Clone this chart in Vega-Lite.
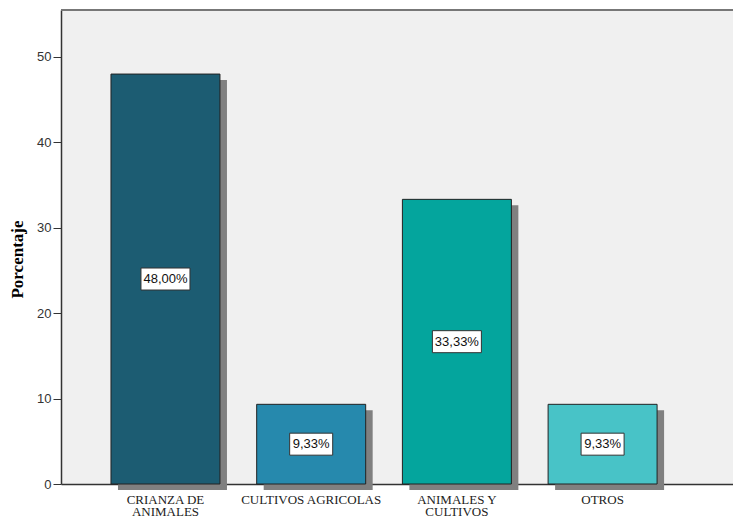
{
  "$schema": "https://vega.github.io/schema/vega-lite/v6.json",
  "width": 672,
  "height": 474,
  "autosize": {"type": "none"},
  "padding": {"left": 61, "top": 10, "right": 0, "bottom": 32},
  "background": "#ffffff",
  "config": {
    "view": {"fill": "#f0f0f0", "stroke": null}
  },
  "data": {
    "values": [
      {"categoria": "CRIANZA DE ANIMALES", "porcentaje": 48.0, "etiqueta": "48,00%"},
      {"categoria": "CULTIVOS AGRICOLAS", "porcentaje": 9.33, "etiqueta": "9,33%"},
      {"categoria": "ANIMALES Y CULTIVOS", "porcentaje": 33.33, "etiqueta": "33,33%"},
      {"categoria": "OTROS", "porcentaje": 9.33, "etiqueta": "9,33%"}
    ]
  },
  "transform": [
    {"calculate": "datum.porcentaje / 2", "as": "mitad"}
  ],
  "encoding": {
    "x": {
      "field": "categoria",
      "type": "nominal",
      "sort": null,
      "scale": {"paddingInner": 0.252, "paddingOuter": 0.432, "align": 0.397},
      "axis": {
        "title": null,
        "labelAngle": 0,
        "labelFont": "Liberation Serif",
        "labelFontSize": 13,
        "labelColor": "#222222",
        "labelLineHeight": 12.5,
        "labelPadding": 5,
        "tickSize": 4,
        "tickColor": "#333333",
        "domainColor": "#333333",
        "domainWidth": 1.5,
        "labelExpr": "datum.label == 'CRIANZA DE ANIMALES' ? ['CRIANZA DE', 'ANIMALES'] : datum.label == 'ANIMALES Y CULTIVOS' ? ['ANIMALES Y', 'CULTIVOS'] : datum.label"
      }
    }
  },
  "layer": [
    {
      "mark": {"type": "rule", "color": "#777777", "strokeWidth": 1.5},
      "encoding": {"y": {"datum": 55.5, "type": "quantitative"}, "x": null}
    },
    {
      "mark": {"type": "bar", "color": "#808080", "xOffset": 7, "yOffset": 6},
      "encoding": {
        "y": {
          "field": "porcentaje",
          "type": "quantitative",
          "scale": {"domain": [0, 55.5], "nice": false},
          "axis": {
            "title": "Porcentaje",
            "titleFont": "Liberation Serif",
            "titleFontSize": 17,
            "titleFontWeight": "bold",
            "titleColor": "#000000",
            "titleX": -44,
            "titleY": 249,
            "titleBaseline": "middle",
            "titleAngle": -90,
            "titleAlign": "center",
            "values": [0, 10, 20, 30, 40, 50],
            "grid": false,
            "labelFont": "Liberation Sans",
            "labelFontSize": 13,
            "labelColor": "#333333",
            "labelPadding": 2,
            "tickSize": 8,
            "tickColor": "#333333",
            "domainColor": "#333333",
            "domainWidth": 1.5
          }
        }
      }
    },
    {
      "mark": {"type": "bar", "stroke": "#222222", "strokeWidth": 1},
      "encoding": {
        "y": {"field": "porcentaje", "type": "quantitative"},
        "color": {
          "field": "categoria",
          "type": "nominal",
          "sort": null,
          "scale": {
            "domain": ["CRIANZA DE ANIMALES", "CULTIVOS AGRICOLAS", "ANIMALES Y CULTIVOS", "OTROS"],
            "range": ["#1c5c72", "#2689ad", "#04a59d", "#48c3c7"]
          },
          "legend": null
        }
      }
    },
    {
      "mark": {"type": "point", "filled": true, "fill": "#ffffff", "stroke": "#333333", "strokeWidth": 1, "opacity": 1, "size": 2401},
      "encoding": {
        "y": {"field": "mitad", "type": "quantitative"},
        "shape": {
          "field": "etiqueta",
          "type": "nominal",
          "scale": {
            "domain": ["48,00%", "9,33%", "33,33%"],
            "range": ["M-1,-0.449H1V0.449H-1Z", "M-0.878,-0.449H0.878V0.449H-0.878Z", "M-1,-0.449H1V0.449H-1Z"]
          },
          "legend": null
        }
      }
    },
    {
      "mark": {"type": "text", "font": "Liberation Sans", "fontSize": 13, "color": "#111111", "baseline": "middle"},
      "encoding": {
        "y": {"field": "mitad", "type": "quantitative"},
        "text": {"field": "etiqueta"}
      }
    }
  ]
}
